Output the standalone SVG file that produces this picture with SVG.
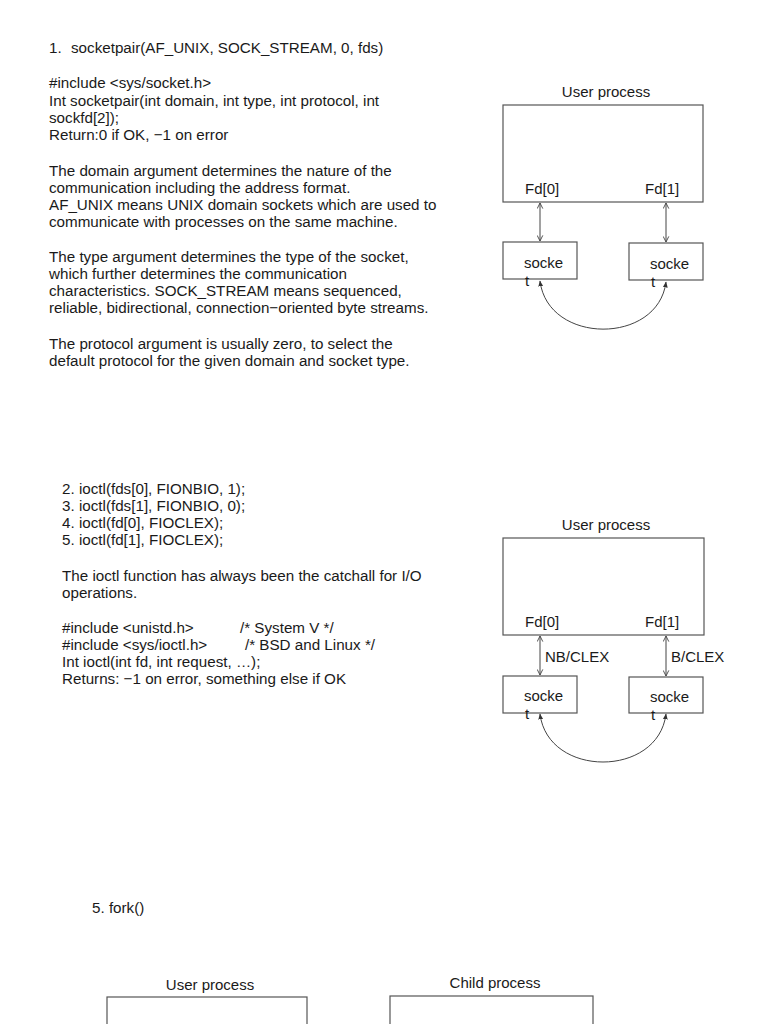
<svg xmlns="http://www.w3.org/2000/svg" width="768" height="1024" viewBox="0 0 768 1024">
<defs>
<style>
text{font-family:"Liberation Sans",Arial,sans-serif;font-size:15.2px;fill:#1a1a1a}
.lbl{font-size:15px}
.box{fill:none;stroke:#555;stroke-width:1.2}
.con{fill:none;stroke:#444;stroke-width:1}
.mid{text-anchor:middle}
</style>
<marker id="open" viewBox="0 0 10 10" refX="9" refY="5" markerWidth="7" markerHeight="7" orient="auto-start-reverse" markerUnits="userSpaceOnUse">
<path d="M1,1 L9,5 L1,9" fill="none" stroke="#444" stroke-width="1.3"/>
</marker>
<marker id="fill" viewBox="0 0 10 10" refX="9" refY="5" markerWidth="6" markerHeight="6" orient="auto-start-reverse" markerUnits="userSpaceOnUse">
<path d="M0,1 L10,5 L0,9 Z" fill="#333"/>
</marker>
</defs>
<rect width="768" height="1024" fill="#fff"/>

<g id="text1">
<text x="49" y="53">1.</text>
<text x="71" y="53">socketpair(AF_UNIX, SOCK_STREAM, 0, fds)</text>
<text x="49" y="88">#include &lt;sys/socket.h&gt;</text>
<text x="49" y="106">Int socketpair(int domain, int type, int protocol, int</text>
<text x="49" y="123">sockfd[2]);</text>
<text x="49" y="140">Return:0 if OK, −1 on error</text>
<text x="49" y="176">The domain argument determines the nature of the</text>
<text x="49" y="193">communication including the address format.</text>
<text x="49" y="210">AF_UNIX means UNIX domain sockets which are used to</text>
<text x="49" y="227">communicate with processes on the same machine.</text>
<text x="49" y="262">The type argument determines the type of the socket,</text>
<text x="49" y="279">which further determines the communication</text>
<text x="49" y="296">characteristics. SOCK_STREAM means sequenced,</text>
<text x="49" y="313">reliable, bidirectional, connection−oriented byte streams.</text>
<text x="49" y="349">The protocol argument is usually zero, to select the</text>
<text x="49" y="366">default protocol for the given domain and socket type.</text>
</g>

<g id="text2">
<text x="62" y="494">2. ioctl(fds[0], FIONBIO, 1);</text>
<text x="62" y="511">3. ioctl(fds[1], FIONBIO, 0);</text>
<text x="62" y="528">4. ioctl(fd[0], FIOCLEX);</text>
<text x="62" y="545">5. ioctl(fd[1], FIOCLEX);</text>
<text x="62" y="581">The ioctl function has always been the catchall for I/O</text>
<text x="62" y="598">operations.</text>
<text x="62" y="633">#include &lt;unistd.h&gt;</text>
<text x="240" y="633">/* System V */</text>
<text x="62" y="650">#include &lt;sys/ioctl.h&gt;</text>
<text x="245" y="650">/* BSD and Linux */</text>
<text x="62" y="667">Int ioctl(int fd, int request, …);</text>
<text x="62" y="684">Returns: −1 on error, something else if OK</text>
<text x="92" y="913">5. fork()</text>
</g>

<g id="user1">
<text class="mid lbl" x="606" y="97">User process</text>
<rect class="box" x="503" y="105" width="200" height="97"/>
<text class="lbl" x="525" y="194">Fd[0]</text>
<text class="lbl" x="645" y="194">Fd[1]</text>
</g>
<g id="sock1a">
<rect class="box" x="503" y="242" width="74" height="37"/>
<text class="lbl" x="524" y="268">socke</text>
<text class="lbl" x="525" y="286">t</text>
</g>
<g id="sock1b">
<rect class="box" x="629" y="243" width="74" height="37"/>
<text class="lbl" x="650" y="269">socke</text>
<text class="lbl" x="651" y="287">t</text>
</g>

<g id="user2">
<text class="mid lbl" x="606" y="530">User process</text>
<rect class="box" x="503" y="538" width="201" height="97"/>
<text class="lbl" x="525" y="627">Fd[0]</text>
<text class="lbl" x="645" y="627">Fd[1]</text>
</g>
<g id="sock2a">
<rect class="box" x="503" y="676" width="74" height="37"/>
<text class="lbl" x="524" y="701">socke</text>
<text class="lbl" x="525" y="719">t</text>
</g>
<g id="sock2b">
<rect class="box" x="629" y="677" width="74" height="36"/>
<text class="lbl" x="650" y="702">socke</text>
<text class="lbl" x="651" y="720">t</text>
</g>

<g id="user3">
<text class="mid lbl" x="210" y="990">User process</text>
<rect class="box" x="107" y="997" width="200" height="40"/>
</g>
<g id="child3">
<text class="mid lbl" x="495" y="988">Child process</text>
<rect class="box" x="390" y="996" width="203" height="40"/>
</g>

<g id="connectors">
<line class="con" x1="540" y1="203" x2="540" y2="241" marker-start="url(#open)" marker-end="url(#open)"/>
<line class="con" x1="666" y1="203" x2="666" y2="242" marker-start="url(#open)" marker-end="url(#open)"/>
<path class="con" d="M540,281 C548,345 658,345 666,282" marker-start="url(#fill)" marker-end="url(#fill)"/>
<line class="con" x1="540" y1="636" x2="540" y2="675" marker-start="url(#open)" marker-end="url(#open)"/>
<line class="con" x1="666" y1="636" x2="666" y2="676" marker-start="url(#open)" marker-end="url(#open)"/>
<text class="lbl" x="545" y="662">NB/CLEX</text>
<text class="lbl" x="671" y="662">B/CLEX</text>
<path class="con" d="M540,714 C548,778 658,778 666,714" marker-start="url(#fill)" marker-end="url(#fill)"/>
</g>
</svg>
